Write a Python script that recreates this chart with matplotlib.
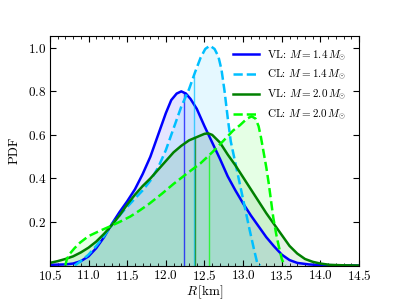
import numpy as np
import matplotlib
matplotlib.use('Agg')
import matplotlib.pyplot as plt
from matplotlib.ticker import MultipleLocator

plt.rcParams.update({
    'font.family': 'serif',
    'font.serif': ['cmr10'],
    'mathtext.fontset': 'cm',
    'axes.formatter.use_mathtext': True,
    'font.size': 9.5,
})

# radius grid / pdf values
r_vl14 = [10.5, 10.7, 10.8, 10.9, 11.0, 11.1, 11.2, 11.3, 11.4, 11.5, 11.6, 11.7, 11.8, 11.9,
          12.0, 12.07, 12.14, 12.2, 12.26, 12.32, 12.4, 12.5, 12.6, 12.7, 12.8, 12.9, 13.0,
          13.1, 13.2, 13.3, 13.4, 13.5, 13.6, 13.7, 13.85, 14.0, 14.5]
p_vl14 = [0.003, 0.005, 0.009, 0.02, 0.042, 0.08, 0.13, 0.19, 0.245, 0.295, 0.35, 0.42, 0.50, 0.60,
          0.70, 0.76, 0.79, 0.80, 0.79, 0.765, 0.72, 0.64, 0.565, 0.49, 0.41, 0.345, 0.285,
          0.23, 0.18, 0.13, 0.088, 0.05, 0.025, 0.012, 0.005, 0.002, 0.0]

r_cl14 = [10.82, 10.9, 11.0, 11.1, 11.2, 11.32, 11.45, 11.58, 11.7, 11.8, 11.9, 12.0, 12.1, 12.2,
          12.3, 12.38, 12.45, 12.51, 12.57, 12.63, 12.68, 12.72, 12.76, 12.8, 12.84, 12.9,
          12.96, 13.02, 13.08, 13.14, 13.18, 13.22]
p_cl14 = [0.0, 0.02, 0.05, 0.09, 0.135, 0.195, 0.25, 0.30, 0.345, 0.39, 0.45, 0.53, 0.63, 0.73,
          0.81, 0.89, 0.955, 0.995, 1.01, 0.995, 0.96, 0.90, 0.80, 0.68, 0.57, 0.47,
          0.37, 0.27, 0.17, 0.075, 0.015, 0.0]

r_vl20 = [10.5, 10.6, 10.7, 10.8, 10.9, 11.0, 11.1, 11.2, 11.3, 11.4, 11.5, 11.6, 11.7, 11.8,
          11.9, 12.0, 12.1, 12.2, 12.3, 12.4, 12.5, 12.55, 12.6, 12.7, 12.8, 12.9, 13.0, 13.1,
          13.2, 13.3, 13.4, 13.5, 13.6, 13.7, 13.8, 13.9, 14.0, 14.12, 14.3, 14.5]
p_vl20 = [0.012, 0.02, 0.03, 0.042, 0.06, 0.082, 0.11, 0.145, 0.185, 0.23, 0.28, 0.325, 0.365, 0.40,
          0.44, 0.48, 0.52, 0.55, 0.575, 0.59, 0.605, 0.607, 0.60, 0.565, 0.51, 0.46, 0.405, 0.35,
          0.295, 0.24, 0.19, 0.14, 0.09, 0.055, 0.03, 0.017, 0.009, 0.003, 0.001, 0.0]

r_cl20 = [10.7, 10.72, 10.76, 10.82, 10.89, 11.0, 11.15, 11.28, 11.4, 11.54, 11.67, 11.79, 11.95,
          12.1, 12.3, 12.45, 12.6, 12.75, 12.87, 12.96, 13.05, 13.11, 13.16, 13.2, 13.23, 13.26,
          13.3, 13.33, 13.36, 13.39, 13.43, 13.46, 13.5, 13.53, 13.55]
p_cl20 = [0.0, 0.03, 0.055, 0.08, 0.105, 0.135, 0.16, 0.18, 0.20, 0.225, 0.255, 0.285, 0.33,
          0.375, 0.43, 0.47, 0.52, 0.575, 0.62, 0.645, 0.675, 0.685, 0.675, 0.64, 0.59, 0.53,
          0.45, 0.38, 0.30, 0.22, 0.14, 0.09, 0.03, 0.005, 0.0]

medians = [12.23, 12.36, 12.38, 12.56]

series = [
    (r_vl14, p_vl14, 'blue', '-', r'VL: $M=1.4\,M_{\odot}$'),
    (r_cl14, p_cl14, 'deepskyblue', '--', r'CL: $M=1.4\,M_{\odot}$'),
    (r_vl20, p_vl20, 'green', '-', r'VL: $M=2.0\,M_{\odot}$'),
    (r_cl20, p_cl20, 'lime', '--', r'CL: $M=2.0\,M_{\odot}$'),
]

fig = plt.figure(figsize=(3.99, 2.99), dpi=100)
ax = fig.add_axes([0.125, 0.112, 0.775, 0.768])

for (r, p, c, ls, lab), med in zip(series, medians):
    ax.fill_between(r, p, color=c, alpha=0.1, lw=0)
    ax.plot(r, p, color=c, ls=ls, lw=1.8, label=lab)
    # median marker up to the curve
    ax.vlines(med, 0, np.interp(med, r, p), color=c, lw=1.0, alpha=0.7)

ax.set_xlim(10.5, 14.5)
ax.set_ylim(0, 1.055)
ax.set_xticks(np.arange(10.5, 14.51, 0.5))
ax.set_yticks([0.2, 0.4, 0.6, 0.8, 1.0])
ax.xaxis.set_minor_locator(MultipleLocator(0.1))
ax.tick_params(which='both', direction='in', top=True, right=True)
ax.tick_params(which='major', length=4, pad=2.5)
ax.tick_params(which='minor', length=2)
ax.set_xlabel(r'$R\,[\mathrm{km}]$', labelpad=0)
ax.set_ylabel('PDF', labelpad=5)
ax.legend(loc='upper right', frameon=False, fontsize=8, handlelength=2.3,
          borderaxespad=0.7)

fig.savefig('out.png', dpi=100)
